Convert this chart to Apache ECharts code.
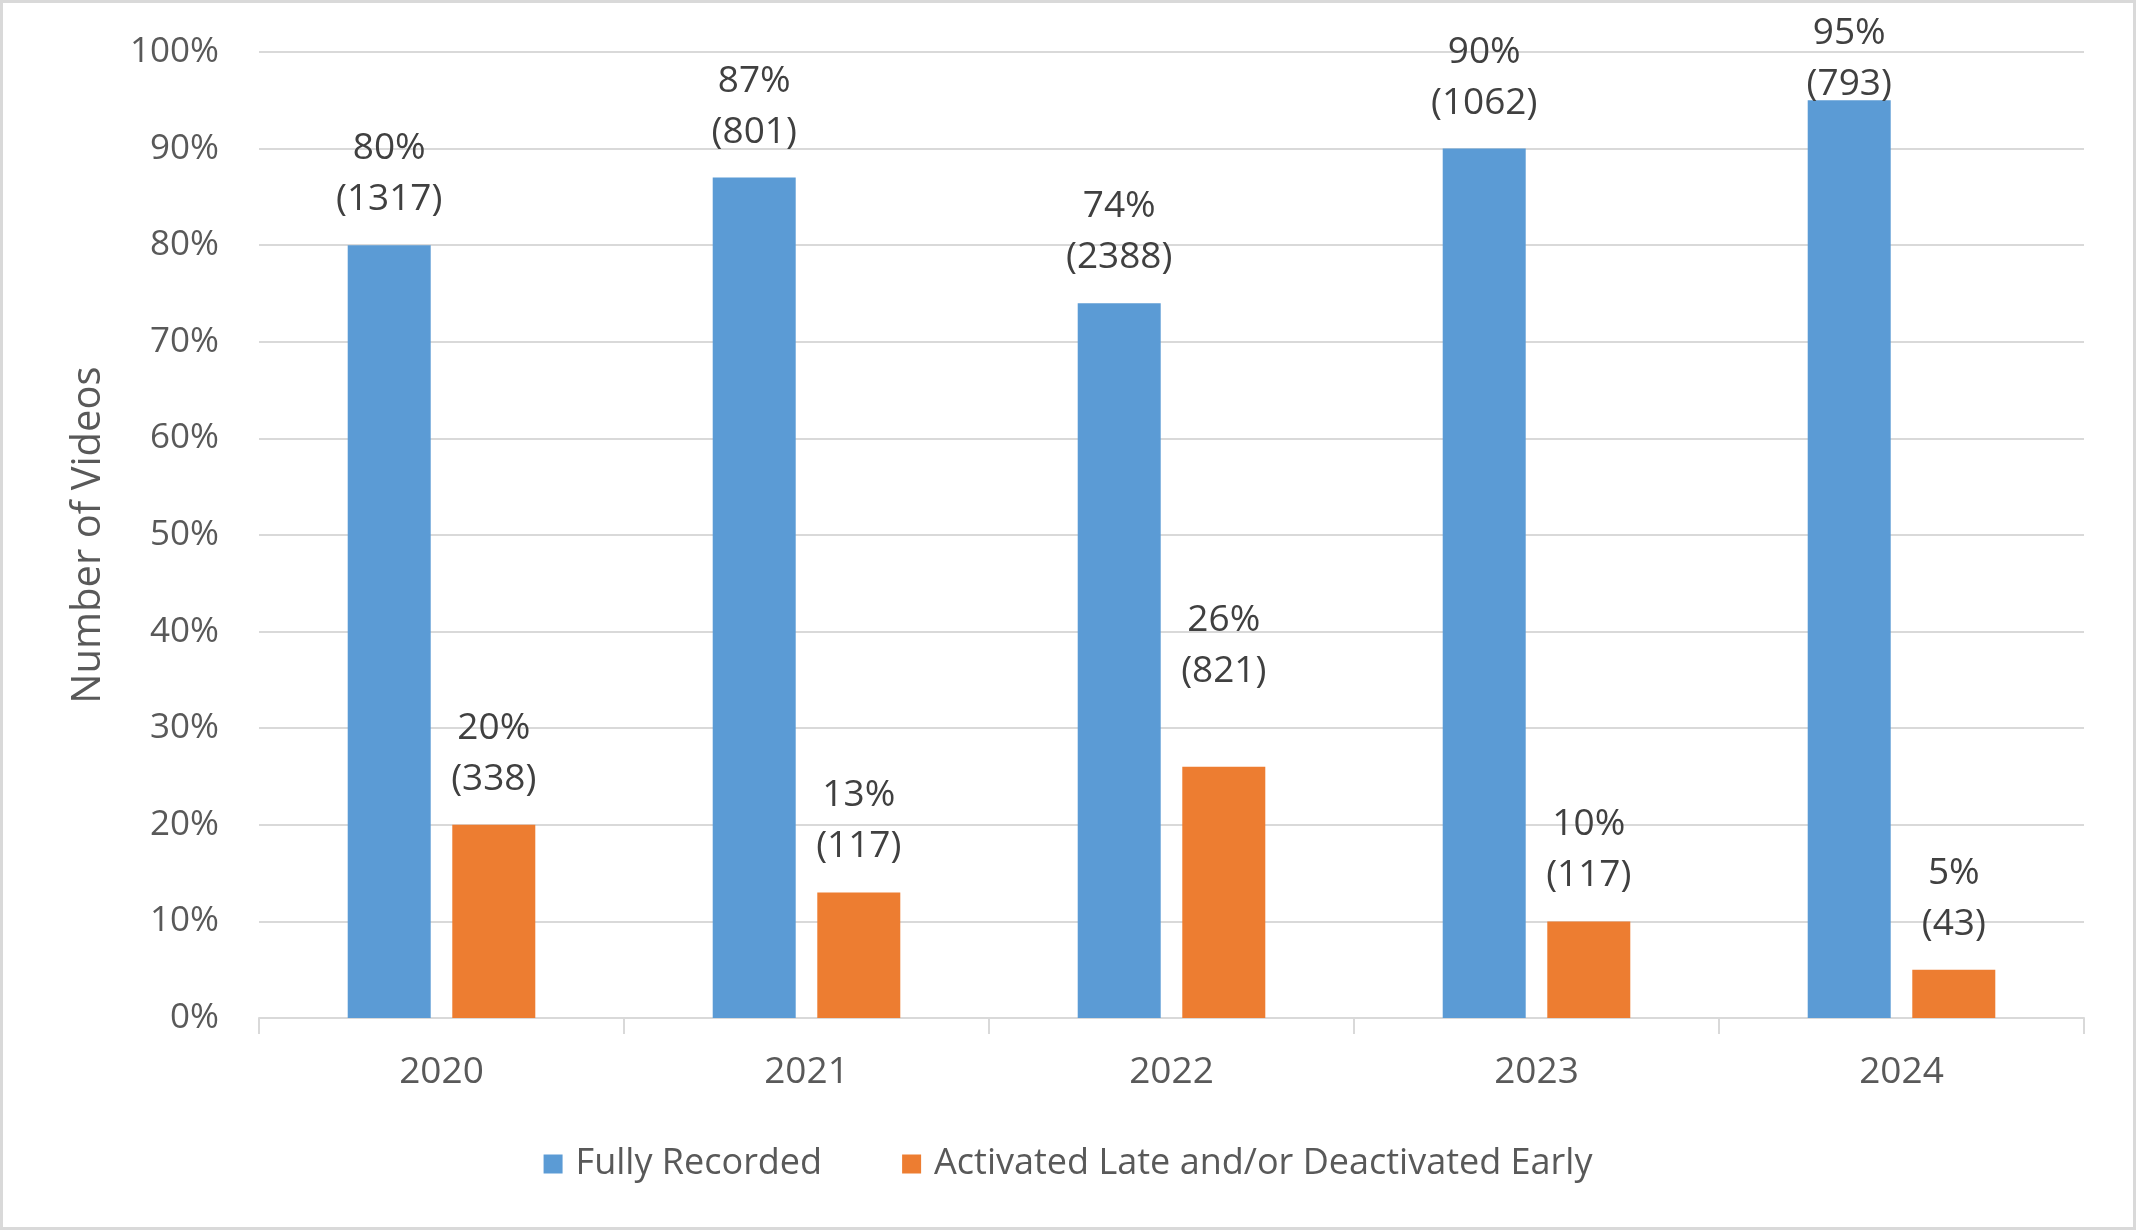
<!DOCTYPE html>
<html>
<head>
<meta charset="utf-8">
<script src="https://cdn.jsdelivr.net/npm/echarts@6/dist/echarts.min.js"></script>
<style>
html,body{margin:0;padding:0;background:#fff;}
#chart{width:2136px;height:1230px;box-sizing:border-box;border:3px solid #d9d9d9;}
</style>
</head>
<body>
<div id="chart"></div>
<script>
const categories = ['2020', '2021', '2022', '2023', '2024'];
const fullyPct = [80, 87, 74, 90, 95];
const fullyCount = [1317, 801, 2388, 1062, 793];
const latePct = [20, 13, 26, 10, 5];
const lateCount = [338, 117, 821, 117, 43];
const seriesNames = ['Fully Recorded', 'Activated Late and/or Deactivated Early'];

// label nudges (style only): vertical pixel offsets by category index
const fullyLabelNudge = { 4: 30 };
const lateLabelNudge = { 2: -50 };

const chart = echarts.init(document.getElementById('chart'));
const FONT = '"Open Sans", "Noto Sans", sans-serif';

function makeData(pcts, counts, nudge) {
  return pcts.map((v, i) => {
    const item = { value: v, count: counts[i] };
    if (nudge[i] !== undefined) item.label = { offset: [0, nudge[i]] };
    return item;
  });
}

const labelCfg = {
  show: true,
  position: 'top',
  distance: 20,
  formatter: p => p.value + '%\n(' + p.data.count + ')',
  fontFamily: FONT,
  fontSize: 37,
  lineHeight: 51,
  color: '#404040'
};

chart.setOption({
  animation: false,
  textStyle: { fontFamily: FONT },
  grid: { left: 256, right: 49, top: 49, bottom: 209, containLabel: false },
  legend: {
    bottom: 40,
    left: 'center',
    itemWidth: 19,
    itemHeight: 19,
    itemGap: 80,
    icon: 'rect',
    textStyle: { fontFamily: FONT, fontSize: 36, color: '#595959', padding: [0, 0, 0, 8] },
    data: seriesNames
  },
  xAxis: {
    type: 'category',
    data: categories,
    axisLine: { lineStyle: { color: '#d9d9d9', width: 2 } },
    axisTick: { show: true, length: 16, lineStyle: { color: '#d9d9d9', width: 2 } },
    axisLabel: { fontFamily: FONT, fontSize: 37, color: '#595959', margin: 36 }
  },
  yAxis: {
    type: 'value',
    min: 0,
    max: 100,
    interval: 10,
    name: 'Number of Videos',
    nameLocation: 'middle',
    nameGap: 150,
    nameTextStyle: { fontFamily: FONT, fontSize: 40, color: '#595959' },
    axisLine: { show: false },
    axisTick: { show: false },
    axisLabel: { formatter: '{value}%', fontFamily: FONT, fontSize: 35, color: '#595959', margin: 40 },
    splitLine: { lineStyle: { color: '#d9d9d9', width: 2 } }
  },
  series: [
    {
      name: seriesNames[0],
      type: 'bar',
      barWidth: 83,
      barGap: '26%',
      itemStyle: { color: '#5B9BD5' },
      label: labelCfg,
      data: makeData(fullyPct, fullyCount, fullyLabelNudge)
    },
    {
      name: seriesNames[1],
      type: 'bar',
      barWidth: 83,
      barGap: '26%',
      itemStyle: { color: '#ED7D31' },
      label: labelCfg,
      data: makeData(latePct, lateCount, lateLabelNudge)
    }
  ]
});
</script>
</body>
</html>
